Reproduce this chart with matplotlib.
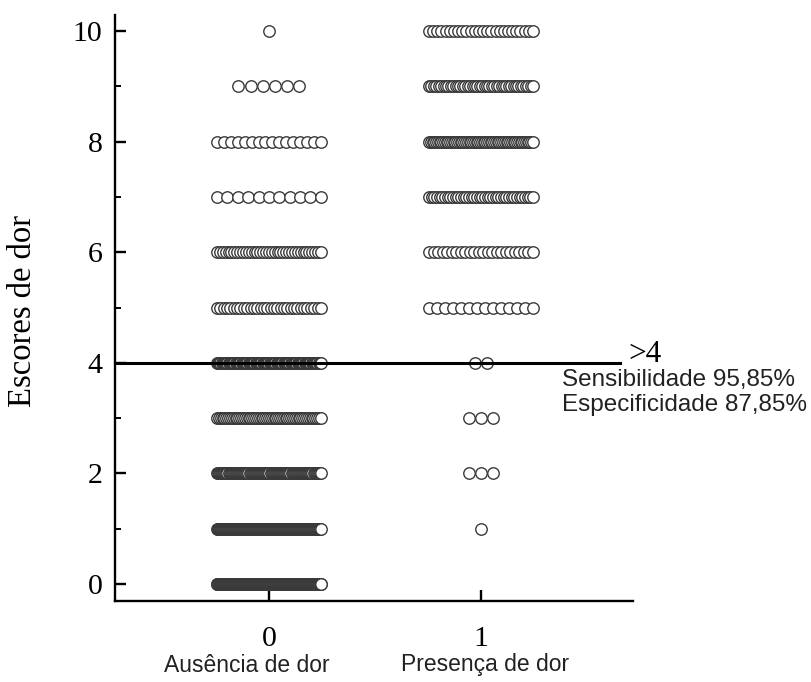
import numpy as np
import matplotlib.pyplot as plt

# pain scores (rows) and number of patients per score in each group
scores = [0, 1, 2, 3, 4, 5, 6, 7, 8, 9, 10]
ausencia = [330, 170, 100, 57, 90, 32, 37, 11, 16, 6, 1]
presenca = [0, 1, 3, 3, 2, 14, 24, 40, 60, 44, 26]
groups = [0, 1]
group_names = ['Ausência de dor', 'Presença de dor']
cut = 4

fig = plt.figure(figsize=(8.12, 6.82), dpi=100)
ax = fig.add_axes([115/812, 81/682, 518/812, 586/682])

step_max = 0.0575
half_w = 0.245
for g, counts in zip(groups, [ausencia, presenca]):
    for sc, n in zip(scores, counts):
        if n == 0:
            continue
        step = step_max if n < 2 else min(step_max, 2*half_w/(n-1))
        xs = g + (np.arange(n) - (n-1)/2.0)*step
        ax.scatter(xs, np.full(n, sc), s=68, facecolors='white',
                   edgecolors='#3a3a3a', linewidths=1.0, zorder=3)

ax.plot([-0.726, 1.656], [cut, cut], color='black', lw=2.2, zorder=5, clip_on=False)

ax.set_xlim(-0.726, 1.717)
ax.set_ylim(-0.307, 10.29)
ax.spines['top'].set_visible(False)
ax.spines['right'].set_visible(False)
for s in ['left', 'bottom']:
    ax.spines[s].set_linewidth(1.7)

ax.set_yticks([0, 2, 4, 6, 8, 10])
ax.set_yticks([1, 3, 5, 7, 9], minor=True)
ax.set_xticks(groups)
ax.set_xticklabels(['0', '1'])
ax.tick_params(axis='both', which='major', direction='in', length=8, width=1.7,
               labelsize=21.5)
ax.tick_params(axis='y', which='minor', direction='in', length=4.5, width=1.4)
ax.tick_params(axis='y', which='major', pad=9)
ax.tick_params(axis='x', which='major', pad=18)
for lab in ax.get_xticklabels() + ax.get_yticklabels():
    lab.set_family('Liberation Serif')

ax.set_ylabel('Escores de dor', family='Liberation Serif', fontsize=23.5,
              va='center', ha='center')
ax.yaxis.set_label_coords(-0.178, 0.495)

name_x = [247, 485]
for px, name in zip(name_x, group_names):
    fig.text(px/812, 1 - 665/682, name, ha='center', va='center',
             family='Liberation Sans', fontsize=16.5, color='#222222')

fig.text(628/812, 1 - 355/682, '>4', ha='left', va='center',
         family='Liberation Serif', fontsize=22.5)
fig.text(562/812, 1 - 380/682, 'Sensibilidade 95,85%', ha='left', va='center',
         family='Liberation Sans', fontsize=17.5, color='#222222')
fig.text(562/812, 1 - 405/682, 'Especificidade 87,85%', ha='left', va='center',
         family='Liberation Sans', fontsize=17.5, color='#222222')

fig.savefig('out.png', dpi=100)
